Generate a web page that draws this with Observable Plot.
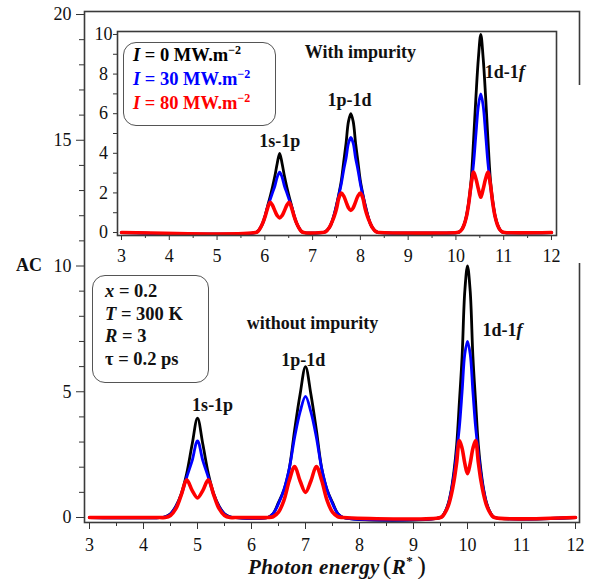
<!DOCTYPE html>
<html><head><meta charset="utf-8">
<script src="https://cdn.jsdelivr.net/npm/d3@7"></script>
<script src="https://cdn.jsdelivr.net/npm/@observablehq/plot@0.6"></script>
<style>
body{margin:0;background:#fff;}
#wrap{position:relative;width:589px;height:579px;overflow:hidden;font-family:"Liberation Serif","Times New Roman",serif;}
#wrap svg{position:absolute;}
.box{position:absolute;box-sizing:border-box;border:1.5px solid #555;border-radius:13px;background:#fff;font-weight:bold;font-size:18.5px;white-space:nowrap;}
.box sup{font-size:12px;vertical-align:7px;line-height:0;}
.lbl{position:absolute;font-weight:bold;white-space:nowrap;color:#111;}
</style></head>
<body><div id="wrap"></div>
<script>
// ---------- tick values ----------
const xMajorTicks = [3,4,5,6,7,8,9,10,11,12];
const xMinorTicks = [3.5,4.5,5.5,6.5,7.5,8.5,9.5,10.5,11.5];
const mainYMajor = [0,5,10,15,20];
const mainYMinor = [1,2,3,4,6,7,8,9,11,12,13,14,16,17,18,19];
const insetYMajor = [0,2,4,6,8,10];
const insetYMinor = [1,3,5,7,9];

// ---------- series ----------
const seriesNames = ["I = 0 MW.m-2","I = 30 MW.m-2","I = 80 MW.m-2"];
const seriesColors = ["#000000","#0000ff","#ff0000"];

// main panel (without impurity)
const mainX1 = [4.3,4.4,4.5,4.6,4.7,4.8,4.9,5.0,5.1,5.2,5.3,5.4,5.5,5.6,5.7];
const mainBlack1 = [0,0.03,0.15,0.45,0.95,1.75,2.9,3.95,2.9,1.75,0.95,0.45,0.15,0.03,0];
const mainBlue1  = [0,0.03,0.14,0.43,0.9,1.6,2.25,3.05,2.25,1.6,0.9,0.43,0.14,0.03,0];
const mainRed1   = [0,0,0.08,0.35,0.9,1.5,1.08,0.78,1.08,1.5,0.9,0.35,0.08,0,0];

const mainX2 = [6.3,6.4,6.5,6.6,6.7,6.8,6.9,7.0,7.1,7.2,7.3,7.4,7.5,7.6,7.7];
const mainBlack2 = [0,0.15,0.6,1.1,1.95,3.5,4.9,6.0,4.9,3.5,1.95,1.1,0.6,0.15,0];
const mainBlue2  = [0,0.15,0.55,1.1,1.95,3.2,4.2,4.82,4.2,3.2,1.95,1.1,0.55,0.15,0];
const mainRed2   = [0,0.03,0.21,0.68,1.47,2.03,1.45,1.0,1.45,2.03,1.47,0.68,0.21,0.03,0];

const mainX3 = [9.5,9.55,9.6,9.65,9.7,9.75,9.8,9.85,9.9,9.95,10.0,10.05,10.1,10.15,10.2,10.25,10.3,10.35,10.4,10.45,10.5];
const mainBlack3 = [0,0.1,0.3,0.6,1.1,1.85,2.9,4.6,6.4,9.0,10,9.0,6.4,4.6,2.9,1.85,1.1,0.6,0.3,0.1,0];
const mainBlue3  = [0,0.09,0.28,0.57,1.05,1.7,2.6,3.6,5.0,6.5,7,6.5,5.0,3.6,2.6,1.7,1.05,0.57,0.28,0.09,0];
const mainRed3   = [0,0.08,0.25,0.5,0.9,1.45,2.2,3.06,2.75,2.15,1.74,2.15,2.75,3.06,2.2,1.45,0.9,0.5,0.25,0.08,0];

// inset panel (with impurity)
const insetX1 = [5.81,5.86,5.91,5.96,6.01,6.06,6.11,6.16,6.21,6.26,6.31,6.36,6.41,6.46,6.51,6.56,6.61,6.66,6.71,6.76,6.81];
const insetBlack1 = [0,0.08,0.25,0.5,0.88,1.35,1.8,2.3,2.85,3.5,4.0,3.5,2.85,2.3,1.8,1.35,0.88,0.5,0.25,0.08,0];
const insetBlue1  = [0,0.08,0.25,0.5,0.86,1.3,1.65,2.0,2.35,2.8,3.05,2.8,2.35,2.0,1.65,1.3,0.86,0.5,0.25,0.08,0];
const insetRed1   = [0,0.07,0.25,0.5,0.84,1.25,1.53,1.38,1.1,0.85,0.74,0.85,1.1,1.38,1.53,1.25,0.84,0.5,0.25,0.07,0];

const insetX2 = [7.2,7.25,7.3,7.35,7.4,7.45,7.5,7.55,7.6,7.65,7.7,7.75,7.8,7.85,7.9,7.95,8.0,8.05,8.1,8.15,8.2,8.25,8.3,8.35,8.4];
const insetBlack2 = [0,0.02,0.1,0.25,0.5,0.9,1.4,1.95,2.6,3.55,4.5,5.6,6.0,5.6,4.5,3.55,2.6,1.95,1.4,0.9,0.5,0.25,0.1,0.02,0];
const insetBlue2  = [0,0.02,0.1,0.25,0.5,0.88,1.35,1.9,2.45,3.15,3.75,4.5,4.8,4.5,3.75,3.15,2.45,1.9,1.35,0.88,0.5,0.25,0.1,0.02,0];
const insetRed2   = [0,0.02,0.1,0.25,0.5,0.8,1.2,1.75,1.99,1.85,1.55,1.25,1.11,1.25,1.55,1.85,1.99,1.75,1.2,0.8,0.5,0.25,0.1,0.02,0];

const insetX3 = [10.02,10.07,10.12,10.17,10.22,10.27,10.32,10.37,10.42,10.47,10.52,10.57,10.62,10.67,10.72,10.77,10.82,10.87,10.92,10.97,11.02];
const insetBlack3 = [0,0.03,0.15,0.4,0.85,1.6,2.7,4.7,6.9,8.8,10,8.8,6.9,4.7,2.7,1.6,0.85,0.4,0.15,0.03,0];
const insetBlue3  = [0,0.03,0.14,0.38,0.8,1.5,2.4,3.5,5.0,6.4,7,6.4,5.0,3.5,2.4,1.5,0.8,0.38,0.14,0.03,0];
const insetRed3   = [0,0.03,0.14,0.38,0.8,1.5,2.45,3.05,2.7,2.2,1.78,2.2,2.7,3.05,2.45,1.5,0.8,0.38,0.14,0.03,0];

// peak annotations (data coordinates)
const mainNotes = [
  {text:"without impurity", x:7.13, y:7.71},
  {text:"1s-1p", x:5.28, y:4.45},
  {text:"1p-1d", x:6.96, y:6.24},
  {text:"1d-1f", x:10.65, y:7.44}
];
const insetNotes = [
  {text:"With impurity", x:8.0, y:9.09},
  {text:"1s-1p", x:6.31, y:4.6},
  {text:"1p-1d", x:7.77, y:6.67},
  {text:"1d-1f", x:11.02, y:8.08}
];

// ---------- build ----------
function buildRows(xParts, yParts) {
  const xs = [3, ...xParts.flat(), 12];
  const ys = [0, ...yParts.flat(), 0];
  return xs.map((x, i) => ({x, y: ys[i]}));
}
const mainXs = [mainX1, mainX2, mainX3];
const insetXs = [insetX1, insetX2, insetX3];
const mainRows = [
  buildRows(mainXs, [mainBlack1, mainBlack2, mainBlack3]),
  buildRows(mainXs, [mainBlue1, mainBlue2, mainBlue3]),
  buildRows(mainXs, [mainRed1, mainRed2, mainRed3])
];
const insetRows = [
  buildRows(insetXs, [insetBlack1, insetBlack2, insetBlack3]),
  buildRows(insetXs, [insetBlue1, insetBlue2, insetBlue3]),
  buildRows(insetXs, [insetRed1, insetRed2, insetRed3])
];
const widths = [2.8, 2.8, 3.6];
const lineMarks = rs => rs.map((r, i) => Plot.line(r, {x:"x", y:"y", stroke: seriesColors[i], strokeWidth: widths[i], curve:"catmull-rom"}));

const font = '"Liberation Serif","Times New Roman",serif';
const blank = () => "";

const main = Plot.plot({
  width:589, height:579, marginLeft:84, marginRight:10, marginTop:11, marginBottom:57,
  style:{fontFamily:font, fontSize:"18px", color:"#333", background:"#fff", overflow:"visible"},
  x:{domain:[2.9074,12.074]},
  y:{domain:[-0.199,20.12]},
  marks:[
    Plot.axisX({ticks:xMajorTicks, tickSize:7, tickPadding:9, label:null, fill:"#111"}),
    Plot.axisX({ticks:xMinorTicks, tickSize:4, tickFormat:blank, label:null}),
    Plot.axisY({ticks:mainYMajor, tickSize:8, tickPadding:5, label:null, fill:"#111"}),
    Plot.axisY({ticks:mainYMinor, tickSize:5, tickFormat:blank, label:null}),
    ...lineMarks(mainRows),
    Plot.frame({stroke:"#3a3a3a", strokeWidth:1.6}),
    Plot.text(mainNotes, {x:"x", y:"y", text:"text", fontWeight:"bold", fontSize:18, fill:"#111"})
  ]
});

const inset = Plot.plot({
  width:497, height:242, marginLeft:25, marginRight:33, marginTop:9, marginBottom:29,
  style:{fontFamily:font, fontSize:"18px", color:"#333", background:"transparent", overflow:"visible"},
  x:{domain:[2.916,12.105]},
  y:{domain:[-0.15,10.15]},
  marks:[
    Plot.axisX({ticks:xMajorTicks, tickSize:5, tickPadding:9, label:null, fill:"#111"}),
    Plot.axisX({ticks:xMinorTicks, tickSize:3, tickFormat:blank, label:null}),
    Plot.axisY({ticks:insetYMajor, tickSize:4, tickPadding:10, textAnchor:"middle", label:null, fill:"#111"}),
    Plot.axisY({ticks:insetYMinor, tickSize:4, tickFormat:blank, label:null}),
    ...lineMarks(insetRows),
    Plot.frame({stroke:"#3a3a3a", strokeWidth:1.6}),
    Plot.text(insetNotes, {x:"x", y:"y", text:"text", fontWeight:"bold", fontSize:18, fill:"#111"})
  ]
});

// italic f in "1d-1f"
for (const svg of [main, inset]) {
  svg.querySelectorAll("text").forEach(t => {
    if (t.textContent === "1d-1f") {
      t.textContent = "1d-1";
      const ts = document.createElementNS("http://www.w3.org/2000/svg", "tspan");
      ts.setAttribute("font-style", "italic");
      ts.textContent = "f";
      t.appendChild(ts);
    }
  });
}

const wrap = document.getElementById("wrap");
main.style.left = "0px"; main.style.top = "0px";
wrap.appendChild(main);

const mask = document.createElement("div");
mask.style.cssText = "position:absolute;left:560px;top:85px;width:29px;height:178px;background:#fff;";
wrap.appendChild(mask);

inset.style.left = "92px"; inset.style.top = "22px";
wrap.appendChild(inset);

// legend box (inset)
const legend = document.createElement("div");
legend.className = "box";
legend.style.cssText = "left:123px;top:42px;width:153px;height:84px;padding:0 0 0 9px;line-height:24px;";
legend.innerHTML = seriesColors.map((c, i) => {
  const v = seriesNames[i].match(/= (\d+)/)[1];
  return `<div style="color:${c}"><i>I</i> = ${v} MW.m<sup>\u22122</sup></div>`;
}).join("");
wrap.appendChild(legend);

// parameter box (main)
const params = document.createElement("div");
params.className = "box";
params.style.cssText = "left:92px;top:275px;width:117px;height:108px;padding:4px 0 0 12px;line-height:22.7px;color:#111;";
params.innerHTML = `<div><i>x</i> = 0.2</div><div><i>T</i> = 300 K</div><div><i>R</i> = 3</div><div>\u03c4 = 0.2 ps</div>`;
wrap.appendChild(params);

// axis titles
const ylab = document.createElement("div");
ylab.className = "lbl";
ylab.style.cssText += "left:16px;top:255px;font-size:18px;";
ylab.textContent = "AC";
wrap.appendChild(ylab);

const xlab = document.createElement("div");
xlab.className = "lbl";
xlab.style.cssText += "left:248px;top:551px;font-size:21px;letter-spacing:0.4px;";
xlab.innerHTML = `<i>Photon energy</i><span style="font-weight:normal;font-size:26px;margin-left:3px">(</span><i>R</i><sup style="font-size:13px;vertical-align:9px;line-height:0">*</sup><span style="font-weight:normal;font-size:26px;margin-left:4px">)</span>`;
wrap.appendChild(xlab);
</script>
</body></html>
